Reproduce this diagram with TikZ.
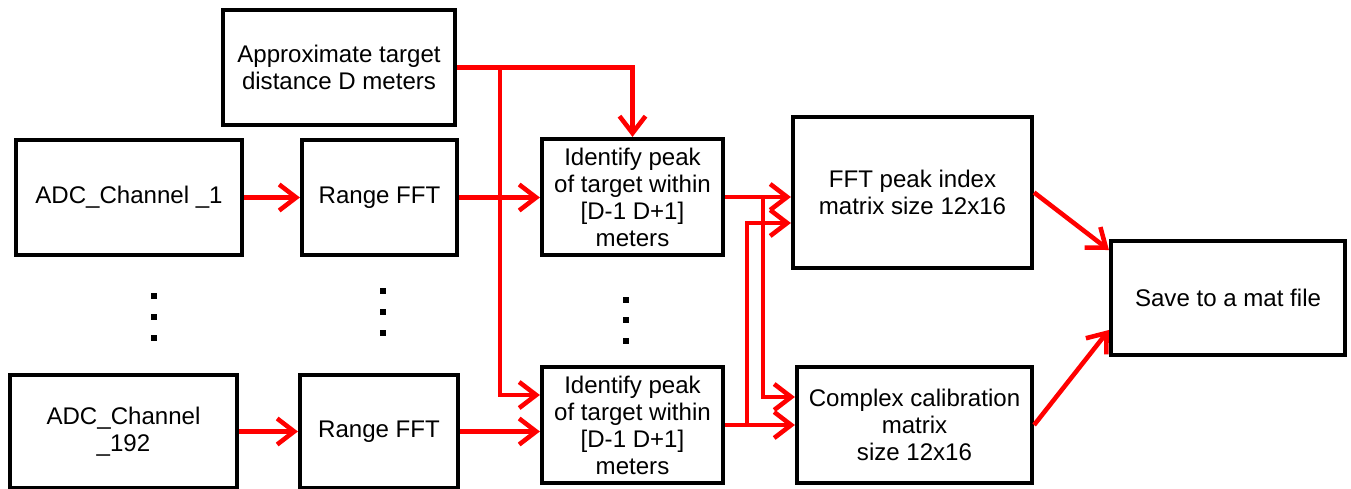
\documentclass[tikz,border=0pt]{standalone}
\usepackage{fontspec}
\setmainfont{Liberation Sans}
\usetikzlibrary{arrows.meta,positioning}
\tikzset{
  blockNode/.style = {draw=black, line width=2.4pt, align=center,
    inner sep=3pt, text centered,
    font=\fontsize{13.7}{15.4}\selectfont},
  %red connector
  linkRed/.style = {draw=red, line width=2.6pt,
    -{Straight Barb[length=0.34cm,width=0.52cm,line width=2.6pt]}},
  %plain red line
  lineRed/.style = {draw=red, line width=2.6pt}
}

\begin{document}
\begin{tikzpicture}[x=0.02cm,y=-0.02cm]
\useasboundingbox (0,0) rectangle (1351,489);
% blocks
\node [blockNode, minimum width=4.64cm, minimum height=2.3cm] (approx) at (339,67.5)
  {Approximate target\\distance D meters};
\node [blockNode, minimum width=4.52cm, minimum height=2.3cm] (adcA) at (129,197.5)
  {ADC\_Channel \_1};
\node [blockNode, minimum width=3.1cm, minimum height=2.3cm] (rangeA) at (379.5,197.5)
  {Range FFT};
\node [blockNode, minimum width=3.62cm, minimum height=2.32cm] (peakA) at (632.5,197)
  {Identify peak\\of target within\\{[D-1 D+1]}\\meters};
\node [blockNode, minimum width=4.78cm, minimum height=3.02cm] (index) at (912.5,192.5)
  {FFT peak index\\matrix size 12x16};
\node [blockNode, minimum width=4.68cm, minimum height=2.28cm] (save) at (1228,298)
  {Save to a mat file};
\node [blockNode, minimum width=4.54cm, minimum height=2.26cm] (adcB) at (123.5,431.5)
  {ADC\_Channel\\\_192};
\node [blockNode, minimum width=3.16cm, minimum height=2.26cm] (rangeB) at (379,431.5)
  {Range FFT};
\node [blockNode, minimum width=3.62cm, minimum height=2.32cm] (peakB) at (632.5,425)
  {Identify peak\\of target within\\{[D-1 D+1]}\\meters};
\node [blockNode, minimum width=4.7cm, minimum height=2.32cm] (calib) at (914.5,425)
  {Complex calibration\\matrix\\size 12x16};

% branch points
\coordinate (splitD) at (500,67.5);
\coordinate (splitA) at (763,197);
\coordinate (splitB) at (747,425);

% connectors
\draw [linkRed] (approx.east) -| (peakA.north);
\draw [linkRed] (splitD) |- ([yshift=0.6cm]peakB.west);
\draw [linkRed] (adcA) -- (rangeA);
\draw [linkRed] (rangeA.east) -- (rangeA.east -| peakA.west);
\draw [linkRed] (adcB.east) -- (adcB.east -| rangeB.west);
\draw [linkRed] (rangeB.east) -- (rangeB.east -| peakB.west);
\draw [linkRed] (peakA.east) -- (peakA.east -| index.west);
\draw [linkRed] (splitA) |- ([yshift=0.56cm]calib.west);
\draw [linkRed] (peakB.east) -- (peakB.east -| calib.west);
\draw [linkRed] (splitB) |- ([yshift=-0.61cm]index.west);
\draw [linkRed] (index.east) -- ([yshift=0.96cm]save.west);
\draw [linkRed] (calib.east) -- ([yshift=-0.64cm]save.west);

% vertical dots
\foreach \px/\py in {154/296, 154/317, 154/338,
                     383/291, 383/312, 383/333,
                     626/300, 626/320, 626/341}
  \fill (\px-3,\py-3) rectangle (\px+3,\py+3);
\end{tikzpicture}
\end{document}
